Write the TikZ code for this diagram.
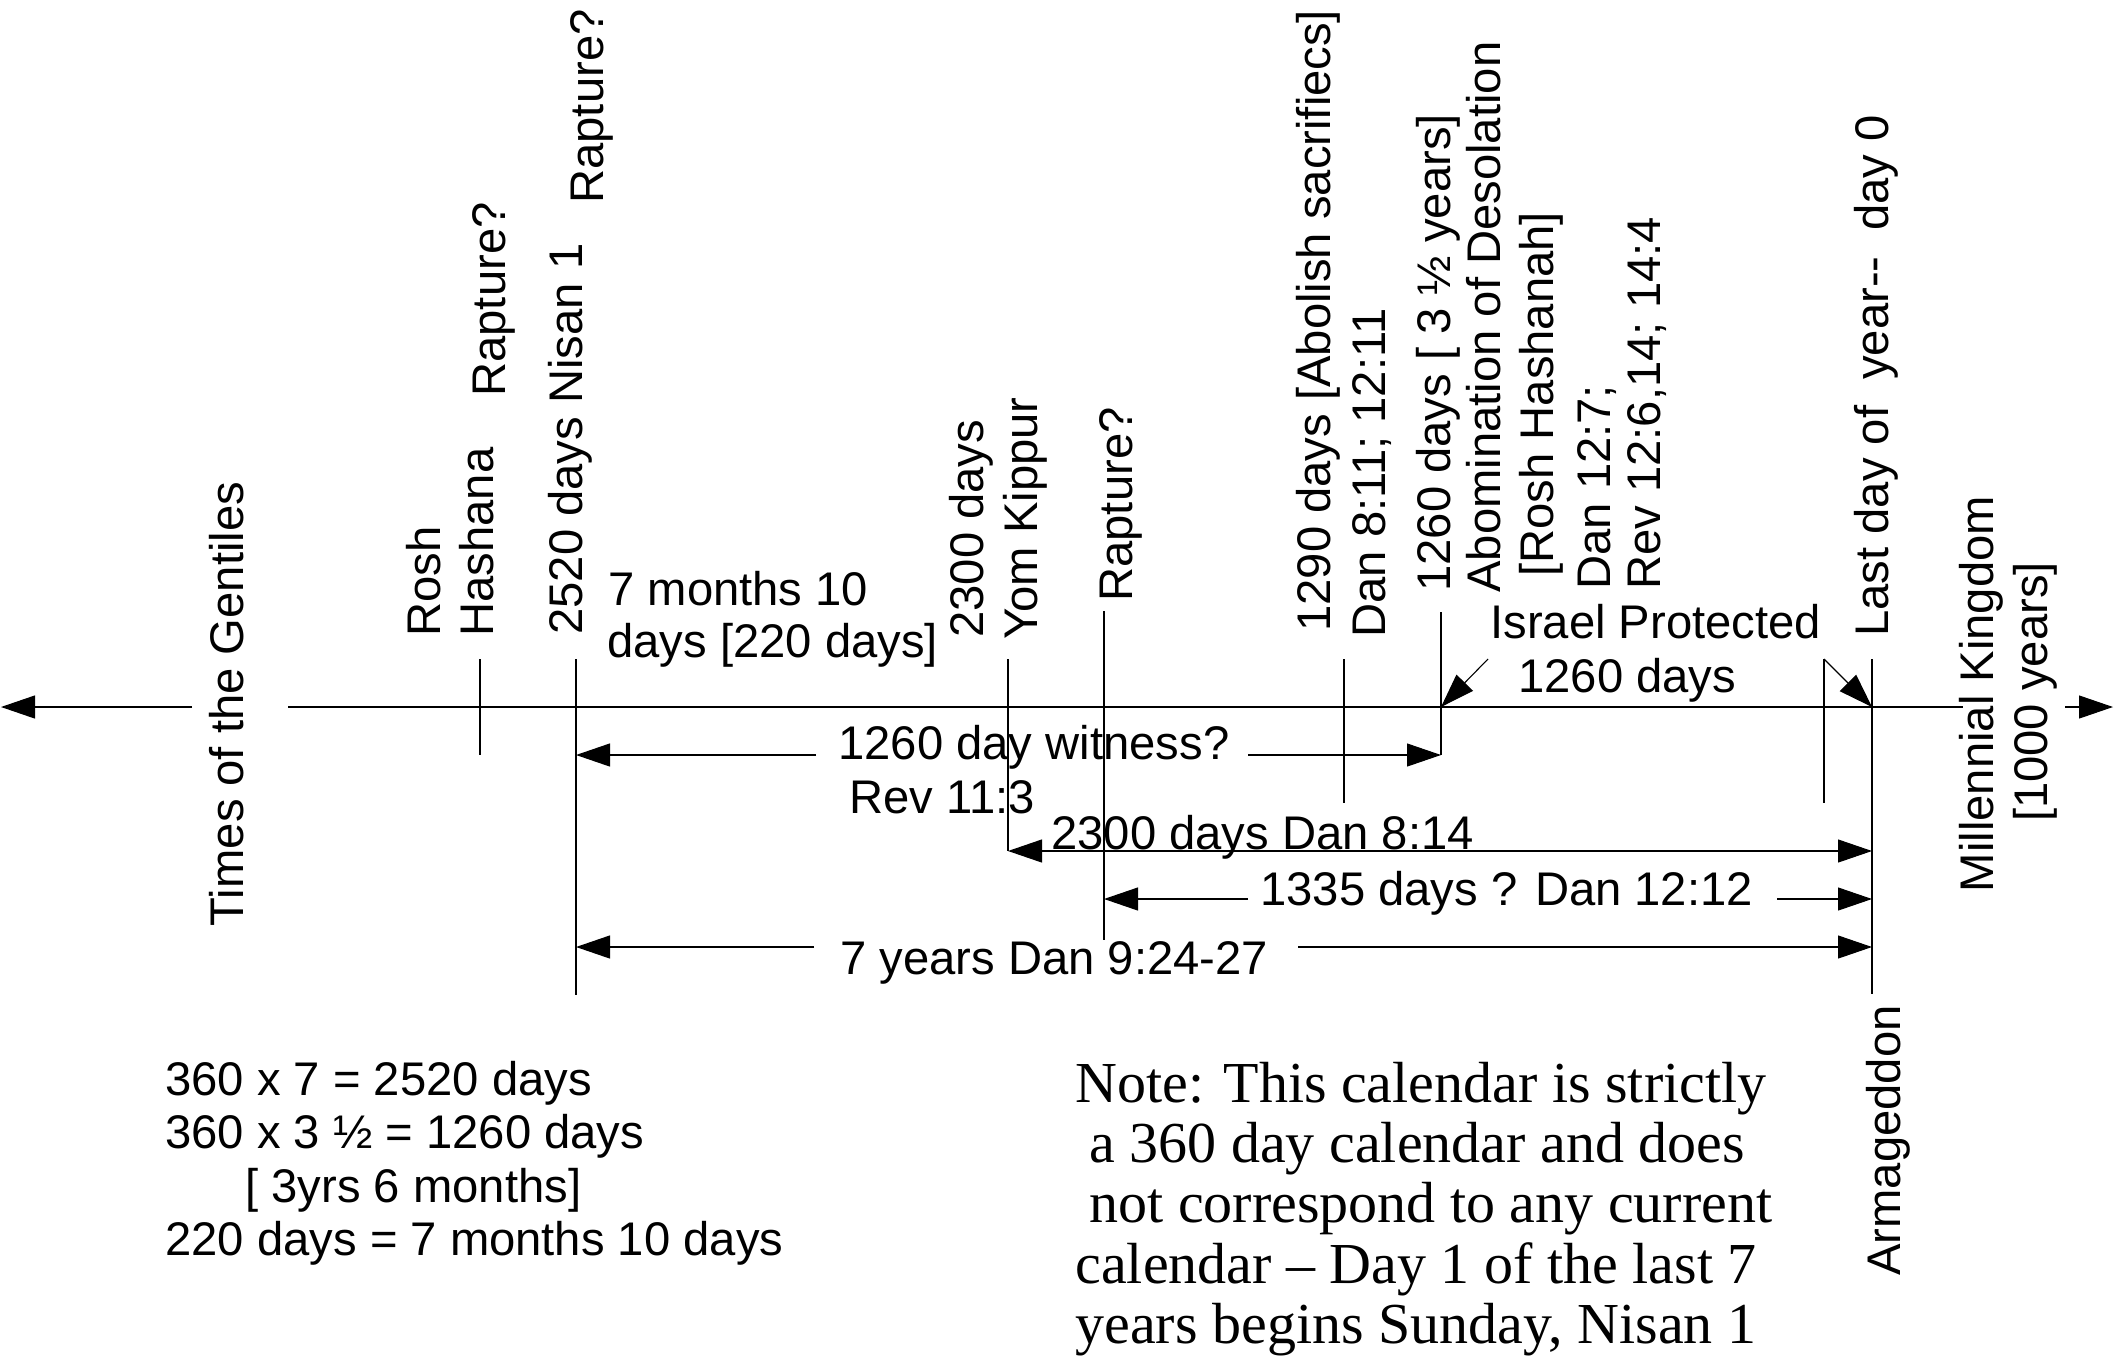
\documentclass[tikz,border=0pt]{standalone}
\usepackage{fontspec}
\setmainfont{Liberation Sans}
\newfontfamily\notefont{Liberation Serif}
\usetikzlibrary{arrows.meta}
\tikzset{
  lbl/.style={inner sep=0pt, anchor=base west, font=\fontsize{23.6}{26.5}\selectfont},
  vlbl/.style={lbl, rotate=90},
  clbl/.style={inner sep=0pt, anchor=base, rotate=90, font=\fontsize{23.6}{26.5}\selectfont},
  notelbl/.style={inner sep=0pt, anchor=base west, font=\notefont\fontsize{29}{30.25}\selectfont},
  tickline/.style={line width=0.55pt},
  arr/.style={line width=0.55pt, -{Triangle[length=17pt,width=11.5pt]}},
  darr/.style={line width=0.55pt, {Triangle[length=17pt,width=11.5pt]}-{Triangle[length=17pt,width=11.5pt]}},
}
\begin{document}
\begin{tikzpicture}[x=0.5pt,y=-0.5pt]
\useasboundingbox (0,0) rectangle (2114,1355);

% ---------- coordinates ----------
\coordinate (axL) at (1,707);
\coordinate (axLg) at (192,707);
\coordinate (axRg) at (288,707);
\coordinate (axR1) at (1963,707);
\coordinate (axR2) at (2065,707);
\coordinate (axR) at (2113,707);

\coordinate (roshT) at (480,659);   \coordinate (roshB) at (480,755);
\coordinate (nisT) at (576,659);    \coordinate (nisB) at (576,995);
\coordinate (yomT) at (1008,659);   \coordinate (yomB) at (1008,851);
\coordinate (rapT) at (1104,611);   \coordinate (rapB) at (1104,940);
\coordinate (t90T) at (1344,659);   \coordinate (t90B) at (1344,803);
\coordinate (t60T) at (1441,612);   \coordinate (t60B) at (1441,755);
\coordinate (ipT) at (1824,659);    \coordinate (ipB) at (1824,803);
\coordinate (lastT) at (1872,659);  \coordinate (lastB) at (1872,994);
\coordinate (ipL) at (1488,659);
\coordinate (axA) at (1441,707);
\coordinate (axB) at (1872,707);

\coordinate (witL) at (576,755);  \coordinate (witLg) at (816,755);
\coordinate (witRg) at (1248,755); \coordinate (witR) at (1441,755);
\coordinate (d23L) at (1008,851); \coordinate (d23R) at (1872,851);
\coordinate (d13L) at (1104,899); \coordinate (d13Lg) at (1248,899);
\coordinate (d13Rg) at (1777,899); \coordinate (d13R) at (1872,899);
\coordinate (y7L) at (576,947);   \coordinate (y7Lg) at (814,947);
\coordinate (y7Rg) at (1298,947); \coordinate (y7R) at (1872,947);

% ---------- axis ----------
\draw[arr] (axLg) -- (axL);
\draw[tickline] (axRg) -- (axR1);
\draw[arr] (axR2) -- (axR);

% ---------- ticks ----------
\draw[tickline] (roshT) -- (roshB);
\draw[tickline] (nisT) -- (nisB);
\draw[tickline] (yomT) -- (yomB);
\draw[tickline] (rapT) -- (rapB);
\draw[tickline] (t90T) -- (t90B);
\draw[tickline] (t60T) -- (t60B);
\draw[tickline] (ipT) -- (ipB);
\draw[tickline] (lastT) -- (lastB);

% ---------- Israel protected arrows ----------
\draw[arr] (ipL) -- (axA);
\draw[arr] (ipT) -- (axB);

% ---------- spans ----------
\draw[arr] (witLg) -- (witL);
\draw[arr] (witRg) -- (witR);
\draw[darr] (d23L) -- (d23R);
\draw[arr] (d13Lg) -- (d13L);
\draw[arr] (d13Rg) -- (d13R);
\draw[arr] (y7Lg) -- (y7L);
\draw[arr] (y7Rg) -- (y7R);

% ---------- rotated labels ----------
\node[clbl] (gent) at (243,704) {Times of the Gentiles};
\node[vlbl] (rosh) at (440,637) {Rosh};
\node[vlbl] (hash) at (493,637) {Hashana};
\node[vlbl] (rap1) at (505,397) {Rapture?};
\node[vlbl] (nisan) at (582,635) {2520 days Nisan 1};
\node[vlbl] (rap2) at (603,204) {Rapture?};
\node[vlbl] (d2300) at (983,638) {2300 days};
\node[vlbl] (yom) at (1037,640) {Yom Kippur};
\node[vlbl] (rap3) at (1132,602) {Rapture?};
\node[vlbl] (d1290) at (1330,632) {1290 days [Abolish sacrifiecs]};
\node[vlbl] (dan811) at (1385,638) {Dan 8:11; 12:11};
\node[vlbl] (d1260) at (1450,592) {1260 days [ 3 ½ years]};
\node[vlbl] (abom) at (1500,593) {Abomination of Desolation};
\node[vlbl] (roshh) at (1553,577) {[Rosh Hashanah]};
\node[vlbl] (dan127) at (1610,590) {Dan 12:7;};
\node[vlbl] (rev126) at (1660,590) {Rev 12:6,14; 14:4};
\node[vlbl] (lastday) at (1888,637) {Last day of\hspace{0.55em}year-{}-\hspace{0.55em}day 0};
\node[clbl] (mill) at (1993,694) {Millennial Kingdom};
\node[clbl] (mill2) at (2047,692) {[1000 years]};
\node[vlbl] (arma) at (1900,1276) {Armageddon};

% ---------- horizontal labels ----------
\node[lbl] (m7a) at (608,605) {7 months 10};
\node[lbl] (m7b) at (607,657) {days [220 days]};
\node[lbl] (wit) at (838,759) {1260 day witness?};
\node[lbl] (rev113) at (849,813) {Rev 11:3};
\node[lbl] (t2300) at (1051,849) {2300 days Dan 8:14};
\node[lbl] (t1335) at (1260,905) {1335 days ? Dan 12:12};
\node[lbl] (t7y) at (840,974) {7 years Dan 9:24-27};
\node[lbl] (isr) at (1490,638) {Israel Protected};
\node[lbl] (isr2) at (1518,692) {1260 days};

\node[lbl] (c1) at (165,1095) {360 x 7 = 2520 days};
\node[lbl] (c2) at (165,1148) {360 x 3 ½ = 1260 days};
\node[lbl] (c3) at (245,1202) {[ 3yrs 6 months]};
\node[lbl] (c4) at (165,1255) {220 days = 7 months 10 days};

\node[notelbl] (n1) at (1075,1102) {Note: This calendar is strictly};
\node[notelbl] (n2) at (1089,1162) {a 360 day calendar and does};
\node[notelbl] (n3) at (1089,1222) {not correspond to any current};
\node[notelbl] (n4) at (1075,1283) {calendar – Day 1 of the last 7};
\node[notelbl] (n5) at (1075,1343) {years begins Sunday, Nisan 1};
\end{tikzpicture}
\end{document}
